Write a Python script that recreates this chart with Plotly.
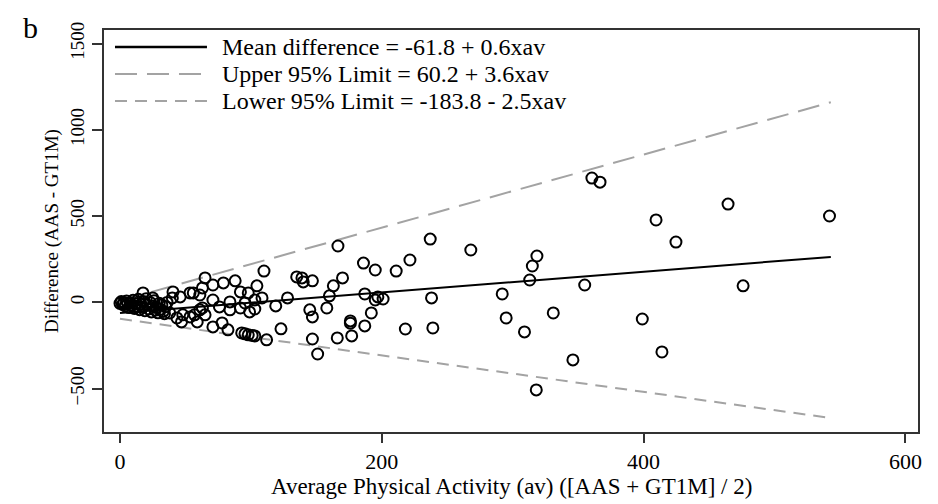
import plotly.graph_objects as go

# ---- data ----
av = [0, 1, 2, 3, 4, 5, 6, 7, 8, 9, 10, 11, 12, 13, 14, 15, 16, 17, 18, 19, 20, 21, 22, 23, 24,
      25, 26, 27, 28, 29, 30, 31, 32, 33, 34, 35, 36, 17.6, 25,
      38, 40, 40.5, 43.5, 46, 47, 48, 53.5, 53.5, 56, 57, 59, 61, 61, 63, 63, 65, 65, 71, 71, 71,
      76, 78, 79, 82.5, 84, 84, 88, 92, 92, 93, 95.5, 95.5, 98, 98, 99, 101, 103, 103, 103, 104.6,
      108.5, 110, 112, 119, 123, 128, 135, 139, 140, 147, 145, 147, 151, 147, 158, 160, 163, 166.5,
      166, 170, 176, 176, 177, 186, 187, 187, 192, 195, 195, 197, 201, 211, 218, 221.5, 237, 238,
      239, 268, 292, 295, 309, 313, 315, 318.5, 318, 331, 346, 355, 360.5, 366.7, 399, 409.5, 414,
      424.7, 464.5, 476, 542]
diff = [-5, 5, -12, 0, -20, 8, -8, -30, -2, -18, 12, -35, -6, -25, 18, -42, -10, -28, 5, -48, 22,
        -15, -38, 0, -55, -22, 10, -45, -30, -60, -5, -40, -14, -52, -65, -25, 0, 55, 26,
        -61, 26, 61, -90, 32, -113, -72, 55, -84, 55, -72, -113, 43, -43, 84, -32, 142, -72, 101, 14,
        -142, -26, -119, 113, -159, 3, -43, 125, 61, -32, -177, -182, -3, 55, -188, -55, -191, -194,
        14, -38, 96, 26, 182, -217, -20, -153, 26, 148, 142, 119, 125, -43, -84, -299, -212, -32, 38,
        96, 327, -206, 142, -107, -120, -194, 228, 49, -136, -61, 188, 14, 32, 20, 182, -154, 246,
        367, 26, -148, 304, 49, -90, -171, 130, 211, 269, -507, -61, -333, 101, 721, 697, -96, 478,
        -287, 350, 570, 96, 501]

line_x = [0, 543]
mean_y = [-61.8, 264.0]
upper_y = [10, 1160]
lower_y = [-95, -670]

x_ticks = [0, 200, 400, 600]
y_ticks = [-500, 0, 500, 1000, 1500]

legend_labels = ["Mean difference = -61.8 + 0.6xav",
                 "Upper 95% Limit = 60.2 + 3.6xav",
                 "Lower 95% Limit = -183.8 - 2.5xav"]

FONT = "Liberation Serif, Times New Roman, serif"
GRAY = "#a3a3a3"
HFONT = 24   # horizontal legend text
VFONT = 19   # rotated text

fig = go.Figure()
fig.add_trace(go.Scatter(x=line_x, y=upper_y, mode="lines",
                         line=dict(color=GRAY, width=2, dash="22px,10px"), showlegend=False))
fig.add_trace(go.Scatter(x=line_x, y=lower_y, mode="lines",
                         line=dict(color=GRAY, width=2, dash="12px,8px"), showlegend=False))
fig.add_trace(go.Scatter(x=av, y=diff, mode="markers",
                         marker=dict(symbol="circle-open", size=11, color="black",
                                     line=dict(width=2, color="black")), showlegend=False))
fig.add_trace(go.Scatter(x=line_x, y=mean_y, mode="lines",
                         line=dict(color="black", width=2), showlegend=False))

# manual legend (top-left inside plot)
rows_y = [0.9577, 0.8905, 0.8234]
styles = [dict(color="black", width=2.5),
          dict(color=GRAY, width=2, dash="22px,10px"),
          dict(color=GRAY, width=2, dash="12px,8px")]
for ry, st, lab in zip(rows_y, styles, legend_labels):
    fig.add_shape(type="line", xref="paper", yref="paper", x0=0.0135, x1=0.1265,
                  y0=ry, y1=ry, line=st)
    fig.add_annotation(xref="paper", yref="paper", x=0.1425, y=ry, text=lab,
                       showarrow=False, xanchor="left", yanchor="middle",
                       font=dict(family=FONT, size=HFONT, color="black"))

fig.add_annotation(xref="paper", yref="paper", x=-0.0909, y=1.052, text="b",
                   showarrow=False, xanchor="center", yanchor="top",
                   font=dict(family=FONT, size=30, color="black"))
fig.add_annotation(xref="paper", yref="paper", x=0.5, y=-0.1368,
                   text="Average Physical Activity (av) ([AAS + GT1M] / 2)",
                   showarrow=False, xanchor="center", yanchor="middle",
                   font=dict(family=FONT, size=23, color="black"))
fig.add_annotation(xref="paper", yref="paper", x=-0.0639, y=0.5,
                   text="Difference (AAS - GT1M)", textangle=-90,
                   showarrow=False, xanchor="center", yanchor="middle",
                   font=dict(family=FONT, size=VFONT, color="black"))

# page body has an 8px margin, so offsets compensate to place the plot box at
# x 104..918, y 30..432 in the window
fig.update_layout(
    width=938, height=504,
    margin=dict(l=96, r=28, t=22, b=80),
    paper_bgcolor="white", plot_bgcolor="white",
    font=dict(family=FONT, size=19, color="black"),
    showlegend=False,
)
fig.update_xaxes(range=[-12.2, 609.6], tickvals=x_ticks, ticks="outside", ticklen=9,
                 tickwidth=1.5, tickcolor="#333", showline=True, linecolor="#333", linewidth=2,
                 mirror=True, showgrid=False, zeroline=False,
                 tickfont=dict(family=FONT, size=22, color="black"))
fig.update_yaxes(range=[-751, 1579], tickvals=y_ticks, ticks="outside", ticklen=10,
                 tickwidth=1.5, tickcolor="#333", showline=True, linecolor="#333", linewidth=2,
                 mirror=True, showgrid=False, zeroline=False, tickangle=-90,
                 tickfont=dict(family=FONT, size=VFONT, color="black"))

fig.write_html("out.html")
